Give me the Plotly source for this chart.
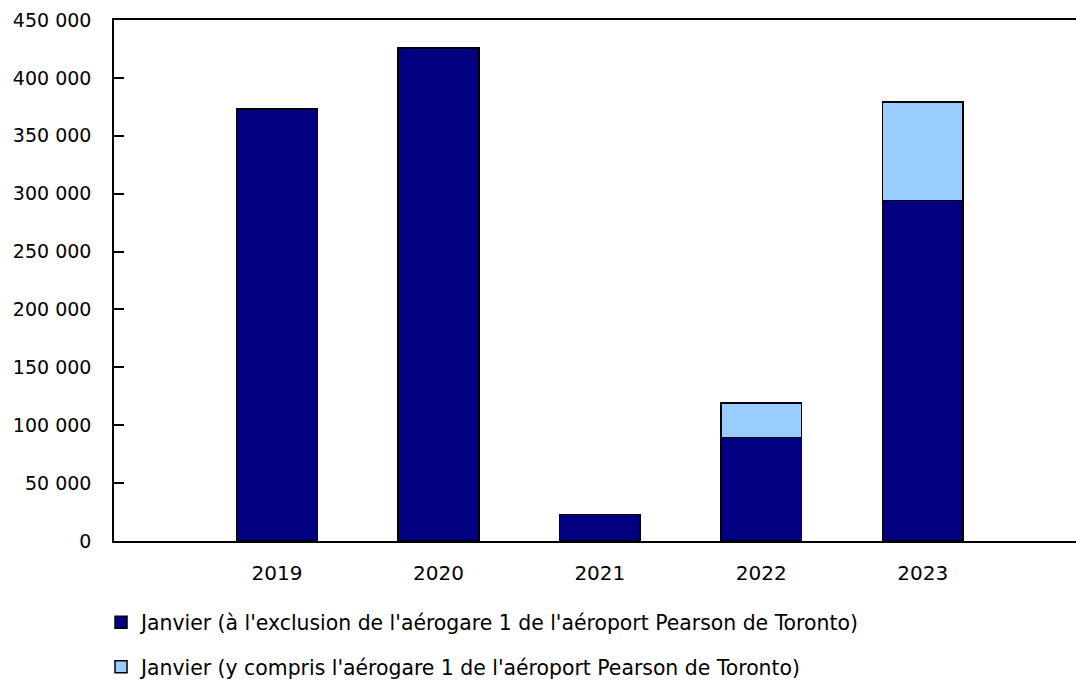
import plotly.graph_objects as go

years = [2019, 2020, 2021, 2022, 2023]
excl_t1 = [373000, 426000, 23000, 89500, 294000]
incl_t1_extra = [0, 0, 0, 29500, 85000]
names = [
    "Janvier (à l'exclusion de l'aérogare 1 de l'aéroport Pearson de Toronto)",
    "Janvier (y compris l'aérogare 1 de l'aéroport Pearson de Toronto)",
]
y_ticks = [0, 50000, 100000, 150000, 200000, 250000, 300000, 350000, 400000, 450000]

FONT = "Verdana, DejaVu Sans, sans-serif"

fig = go.Figure()
fig.add_trace(go.Bar(
    x=years, y=excl_t1, name=names[0], legendgroup="a",
    marker=dict(color="#000080", line=dict(color="#000000", width=1.5)),
    width=0.5,
))
fig.add_trace(go.Bar(
    x=years, y=incl_t1_extra, name=names[1], legendgroup="b",
    marker=dict(color="#99CCFF", line=dict(color="#000000", width=1.5)),
    width=0.5,
))

fig.update_layout(
    barmode="stack",
    width=1076, height=681,
    margin=dict(l=114, r=0, t=20, b=140, autoexpand=False),
    paper_bgcolor="white", plot_bgcolor="white",
    font=dict(family=FONT, size=20, color="#000000"),
    separators=", ",
    showlegend=True,
    legend=dict(
        orientation="v", x=-0.0135, xanchor="left", y=-0.118, yanchor="top",
        font=dict(family=FONT, size=20.4), tracegroupgap=15,
        itemclick=False,
    ),
    xaxis=dict(
        range=[2017.99, 2023.95], tickvals=years, ticktext=[str(y) for y in years],
        showline=True, linecolor="#000000", linewidth=1.5, mirror=True,
        ticks="", showgrid=False, zeroline=False, ticklabelstandoff=13,
        tickfont=dict(size=20),
    ),
    yaxis=dict(
        range=[0, 450000], tickvals=y_ticks, tickformat=",d",
        showline=True, linecolor="#000000", linewidth=1.5,
        ticks="inside", ticklen=10, tickwidth=1.5, tickcolor="#000000",
        showgrid=False, zeroline=False, ticklabelstandoff=17,
        tickfont=dict(size=19),
    ),
)

fig.write_html(
    "out.html",
    config={"displayModeBar": False},
    post_script="document.body.style.margin='0px';document.body.style.overflow='hidden';",
)
